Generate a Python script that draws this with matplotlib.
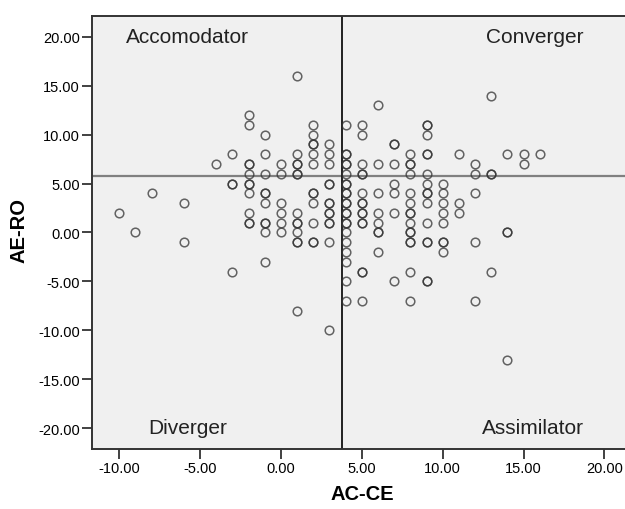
import matplotlib
matplotlib.use('Agg')
from matplotlib import pyplot as plt

plt.rcParams['font.family'] = ['Liberation Sans', 'DejaVu Sans']

# learning style scores, one entry per respondent
ac_ce = [-10, -9, -8, -6, -6, -4, -3, -3, -3, -3,
         -2, -2, -2, -2, -2, -2, -2, -2, -2, -2, -2,
         -1, -1, -1, -1, -1, -1, -1, -1, -1, -1,
         0, 0, 0, 0, 0, 0,
         1, 1, 1, 1, 1, 1, 1, 1, 1, 1, 1, 1, 1,
         2, 2, 2, 2, 2, 2, 2, 2, 2, 2, 2, 2,
         3, 3, 3, 3, 3, 3, 3, 3, 3, 3, 3, 3, 3,
         4, 4, 4, 4, 4, 4, 4, 4, 4, 4, 4, 4, 4, 4, 4, 4, 4, 4, 4, 4, 4, 4,
         5, 5, 5, 5, 5, 5, 5, 5, 5, 5, 5, 5, 5, 5, 5,
         6, 6, 6, 6, 6, 6, 6, 6,
         7, 7, 7, 7, 7, 7, 7,
         8, 8, 8, 8, 8, 8, 8, 8, 8, 8, 8, 8, 8, 8, 8,
         9, 9, 9, 9, 9, 9, 9, 9, 9, 9, 9, 9, 9, 9, 9,
         10, 10, 10, 10, 10, 10, 10, 10,
         11, 11, 11,
         12, 12, 12, 12, 12,
         13, 13, 13, 13,
         14, 14, 14, 14,
         15, 15,
         16]
ae_ro = [2, 0, 4, 3, -1, 7, 8, 5, 5, -4,
         12, 11, 7, 7, 6, 5, 5, 4, 2, 1, 1,
         10, 8, 6, 4, 4, 3, 1, 1, 0, -3,
         7, 6, 3, 2, 1, 0,
         16, 8, 7, 7, 6, 6, 2, 1, 1, 0, -1, -1, -8,
         11, 10, 9, 9, 8, 7, 4, 4, 3, 1, -1, -1,
         9, 8, 7, 5, 5, 3, 3, 2, 2, 1, 1, -1, -10,
         11, 8, 8, 7, 7, 6, 5, 5, 4, 4, 3, 3, 2, 2, 1, 1, 0, -1, -2, -3, -5, -7,
         11, 10, 7, 6, 6, 4, 3, 3, 2, 2, 1, 1, -4, -4, -7,
         13, 7, 4, 2, 1, 0, 0, -2,
         9, 9, 7, 5, 4, 2, -5,
         8, 7, 7, 6, 4, 3, 2, 2, 1, 0, 0, -1, -1, -4, -7,
         11, 11, 10, 8, 8, 6, 5, 4, 4, 3, 1, -1, -1, -5, -5,
         5, 4, 3, 2, 1, -1, -1, -2,
         8, 3, 2,
         7, 6, 4, -1, -7,
         14, 6, 6, -4,
         8, 0, 0, -13,
         8, 7,
         8]

# quadrant cut points
ac_ce_cut = 3.8
ae_ro_cut = 5.8

quadrants = ['Accomodator', 'Converger', 'Diverger', 'Assimilator']
ticks = [-20, -15, -10, -5, 0, 5, 10, 15, 20]

fig = plt.figure(figsize=(6.25, 5.1), dpi=100)
ax = fig.add_axes([91.7 / 625, 60 / 510, (632 - 91.7) / 625, (450 - 16.7) / 510])
ax.set_facecolor('#f0f0f0')

ax.plot(ac_ce, ae_ro, 'o', ms=6.2, mfc='none', mec='#333333', mew=1.1,
        alpha=0.75, zorder=3)

ax.axhline(ae_ro_cut, color='#808080', lw=1.6, zorder=2)
ax.axvline(ac_ce_cut, color='#111111', lw=1.3, zorder=2)

ax.set_xlim(-11.7, 21.7)
ax.set_ylim(-22.14, 22.17)
ax.set_xticks([t for t in ticks if t >= -10])
ax.set_yticks(ticks)
ax.set_xticklabels([f'{t:.2f}' for t in ticks if t >= -10])
ax.set_yticklabels([f'{t:.2f}' for t in ticks])
ax.tick_params(direction='out', length=7, width=1.3, color='#333333',
               labelsize=10.5, pad=1.5)

for side in ['left', 'bottom', 'top', 'right']:
    ax.spines[side].set_color('#333333')
    ax.spines[side].set_linewidth(1.4)

# quadrant names
ax.text(-5.75, 20.0, quadrants[0], fontsize=15, ha='center', va='center', color='#222222')
ax.text(15.7, 20.0, quadrants[1], fontsize=15, ha='center', va='center', color='#222222')
ax.text(-5.75, -19.9, quadrants[2], fontsize=15, ha='center', va='center', color='#222222')
ax.text(15.6, -19.9, quadrants[3], fontsize=15, ha='center', va='center', color='#222222')

fig.text(362 / 625, 1 - 495 / 510, 'AC-CE', fontsize=14.5, fontweight='bold',
         ha='center', va='center')
fig.text(19 / 625, 1 - 231 / 510, 'AE-RO', fontsize=14.5, fontweight='bold',
         ha='center', va='center', rotation=90)

fig.savefig('out.png', dpi=100)
